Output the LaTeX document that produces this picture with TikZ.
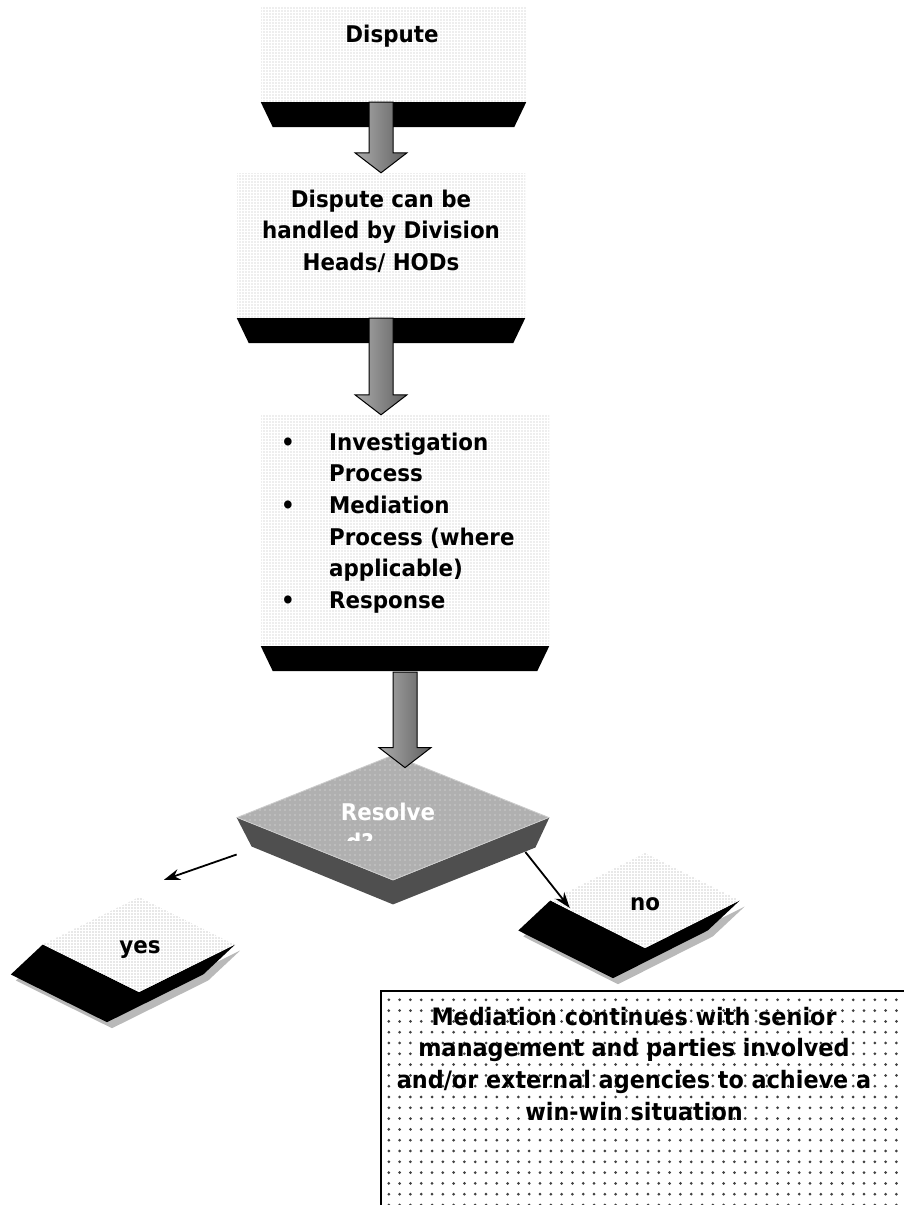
\documentclass[tikz,border=0pt]{standalone}
\usepackage{fontspec}
\setmainfont{DejaVu Sans}[FakeStretch=0.93]
\usetikzlibrary{shapes.geometric,arrows.meta,patterns.meta,calc,backgrounds}

\tikzset{
  stepbox/.style={inner sep=0pt, fill=white,
    postaction={pattern={Dots[distance=3pt,radius=0.6pt]}, pattern color=gray!55}},
  medbox/.style={draw, line width=2pt, inner sep=0pt, fill=white,
    postaction={pattern={Dots[distance=10.8pt,radius=1.5pt]}, pattern color=black!75}},
  bigarrow/.style={draw=black, line width=1pt, left color=gray!65, right color=gray!75!black},
  choice/.style={diamond, inner sep=0pt, aspect=2, fill=white,
    postaction={pattern={Dots[distance=3pt,radius=0.6pt]}, pattern color=gray!75}},
  resolvebox/.style={diamond, inner sep=0pt, aspect=2.496, fill=gray!62, draw=gray!40, line width=0.8pt,
    postaction={pattern={Dots[distance=5pt,radius=0.6pt]}, pattern color=white!85!gray}},
  txt/.style={font=\fontsize{23}{31.7}\selectfont\bfseries, inner sep=0pt},
  bigtxt/.style={font=\fontsize{24}{31.7}\selectfont\bfseries, inner sep=0pt},
  thinarrow/.style={-{Stealth[length=16pt,width=11pt]}, line width=1.8pt},
}

% black foot under a box
\newcommand{\plinth}[1]{%
  \fill[black] (#1.south west) -- (#1.south east) -- ([shift={(-12pt,-25pt)}]#1.south east)
    -- ([shift={(12pt,-25pt)}]#1.south west) -- cycle;}
% thick grey arrow, shaft top to tip
\newcommand{\blockarrow}[2]{%
  \draw[bigarrow] let \p1=(#1), \p2=(#2) in
    (\x1-12pt,\y1) -- (\x1+12pt,\y1) -- (\x1+12pt,\y2+20pt) -- (\x1+26pt,\y2+20pt)
    -- (\x2,\y2) -- (\x1-26pt,\y2+20pt) -- (\x1-12pt,\y2+20pt) -- cycle;}
% slab under a small diamond
\newcommand{\slab}[4]{%
  \fill[#4] ([shift={(#2,#3)}]#1.west) -- ([shift={(#2-32,#3+30)}]#1.west)
    -- ([shift={(#2-32,#3+30)}]#1.south) -- ([shift={(#2-32,#3+30)}]#1.east)
    -- ([shift={(#2,#3)}]#1.east) -- ([shift={(#2,#3)}]#1.south) -- cycle;}

\begin{document}
\begin{tikzpicture}[x=1pt,y=-1pt]
\useasboundingbox (0,0) rectangle (904,1205);

% boxes
\node[stepbox, minimum width=265, minimum height=95] (disp) at (393.5,54.5) {};
\plinth{disp}
\node[stepbox, minimum width=288, minimum height=145] (hods) at (381,245.5) {};
\plinth{hods}
\node[stepbox, minimum width=288, minimum height=231] (steps) at (405,530.5) {};
\plinth{steps}

% multi-line nodes sit on their last baseline
\node[txt, anchor=base] (disptxt) at (392,42) {Dispute};
\node[txt, anchor=base, align=center] (hodstxt) at (381,270.4) {Dispute can be\\handled by Division\\Heads/ HODs};
\node[txt, anchor=base west, align=left] (steptxt) at (281,608.5)
  {\makebox[48pt][l]{\textbullet}Investigation\\\hspace*{48pt}Process\\
   \makebox[48pt][l]{\textbullet}Mediation\\\hspace*{48pt}Process (where\\
   \hspace*{48pt}applicable)\\\makebox[48pt][l]{\textbullet}Response};

% decision
\node[resolvebox, minimum width=312, minimum height=125] (res) at (393,817.5) {};
\node[choice, minimum width=192, minimum height=95] (yes) at (139,944.5) {};
\node[choice, minimum width=189, minimum height=95] (no) at (645,900.5) {};
\begin{scope}[on background layer]
  \fill[gray!62!black] (res.west) -- ([shift={(15,29)}]res.west) -- ([shift={(0,24)}]res.south)
    -- ([shift={(-14,30)}]res.east) -- (res.east) -- (res.south) -- cycle;
  \slab{yes}{5}{6}{gray!55}
  \slab{yes}{0}{0}{black}
  \slab{no}{5}{6}{gray!55}
  \slab{no}{0}{0}{black}
\end{scope}

\node[txt, text=white, anchor=base] (restxt) at (388,820) {Resolve};
\begin{scope}
  \clip (330,825) rectangle (420,840);
  \node[txt, text=white, anchor=base] (restxt2) at (360,850) {d?};
\end{scope}
\node[txt, anchor=base] (yestxt) at (140,953) {yes};
\node[txt, anchor=base] (notxt) at (645,910) {no};

% outcome box
\node[medbox, anchor=north west, minimum width=540, minimum height=240] (med) at (380,990) {};
\node[bigtxt, anchor=base, align=center] (medtxt) at (634,1120.1)
  {Mediation continues with senior\\management and parties involved\\and/or external agencies to achieve a\\win-win situation};

% arrows
\blockarrow{disp.south -| hods.north}{hods.north}
\blockarrow{hods.south}{steps.north -| hods.south}
\blockarrow{$(steps.south)+(0,26)$}{$(res.north)+(12,13)$}
\draw[thinarrow] ([shift={(0,37)}]res.west) -- ([shift={(25,-17)}]yes.north);
\draw[thinarrow] ([shift={(-24,34.5)}]res.east) -- ([shift={(19.5,7.5)}]no.west);
\end{tikzpicture}
\end{document}
